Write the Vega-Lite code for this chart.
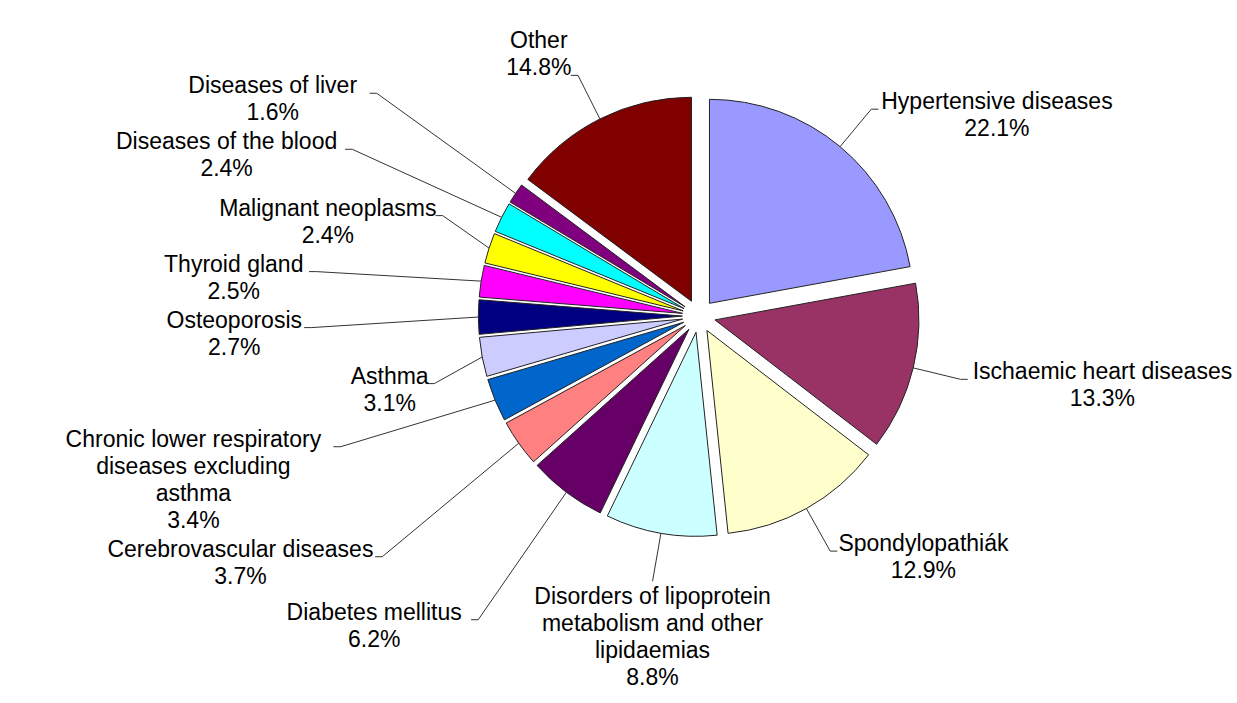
{
  "$schema": "https://vega.github.io/schema/vega-lite/v6.json",
  "width": 1237,
  "height": 703,
  "autosize": {"type": "none"},
  "padding": 0,
  "background": "white",
  "config": {"view": {"stroke": null}},
  "data": {
    "values": [
      {"order": 0, "name": "Hypertensive diseases", "value": 22.1},
      {"order": 1, "name": "Ischaemic heart diseases", "value": 13.3},
      {"order": 2, "name": "Spondylopathiák", "value": 12.9},
      {"order": 3, "name": "Disorders of lipoprotein\nmetabolism and other\nlipidaemias", "value": 8.8},
      {"order": 4, "name": "Diabetes mellitus", "value": 6.2},
      {"order": 5, "name": "Cerebrovascular diseases", "value": 3.7},
      {"order": 6, "name": "Chronic lower respiratory\ndiseases excluding\nasthma", "value": 3.4},
      {"order": 7, "name": "Asthma", "value": 3.1},
      {"order": 8, "name": "Osteoporosis", "value": 2.7},
      {"order": 9, "name": "Thyroid gland", "value": 2.5},
      {"order": 10, "name": "Malignant neoplasms", "value": 2.4},
      {"order": 11, "name": "Diseases of the blood", "value": 2.4},
      {"order": 12, "name": "Diseases of liver", "value": 1.6},
      {"order": 13, "name": "Other", "value": 14.8}
    ]
  },
  "transform": [
    {"joinaggregate": [{"op": "sum", "field": "value", "as": "total"}]},
    {"window": [{"op": "sum", "field": "value", "as": "cum"}], "sort": [{"field": "order", "order": "ascending"}], "frame": [null, 0]},
    {"calculate": "(datum.cum - datum.value) / datum.total", "as": "f0"},
    {"calculate": "datum.cum / datum.total", "as": "f1"},
    {"calculate": "PI * (datum.f0 + datum.f1)", "as": "mid"},
    {"calculate": "sin(datum.mid)", "as": "s"},
    {"calculate": "cos(datum.mid)", "as": "c"},
    {"calculate": "0.081 * datum.s", "as": "ex"},
    {"calculate": "0.081 * datum.c", "as": "ey"},
    {"calculate": "1.081 * datum.s", "as": "ax"},
    {"calculate": "1.081 * datum.c", "as": "ay"},
    {"calculate": "datum.value >= 8 ? 1.32 : datum.value >= 5 ? 1.8 : (datum.order % 3 == 1 ? 1.32 : 1.9)", "as": "rl"},
    {"calculate": "datum.rl * datum.s", "as": "bx"},
    {"calculate": "datum.rl * datum.c", "as": "by0"},
    {"calculate": "abs(datum.s) > 0.3", "as": "side"},
    {"calculate": "datum.s < 0 && datum.value < 8 ? 'L' : 'N'", "as": "grp"},
    {"calculate": "indexof(datum.name, '\\n') >= 0 ? 4 : 2", "as": "nl"},
    {"calculate": "format(datum.value, '.1f') + '%'", "as": "pct"},
    {"calculate": "datum.name + '\\n' + datum.pct", "as": "lbl"},
    {"calculate": "indexof(datum.name, '\\n') >= 0 ? indexof(datum.name, '\\n') : length(datum.name)", "as": "len1"},
    {"calculate": "length(datum.pct) >= datum.len1 ? datum.nl - 1 : 0", "as": "k"},
    {"calculate": "max(datum.len1, length(datum.pct)) * 10.8 / 2 / 204", "as": "hw"},
    {"calculate": "(20.5 + 27 * datum.k) / 204", "as": "off"},
    {"calculate": "(datum.nl * 27 + 2) / 204", "as": "h"},
    {"calculate": "datum.by0 + datum.off", "as": "top0"},
    {"window": [{"op": "sum", "field": "h", "as": "csum"}], "groupby": ["grp"], "sort": [{"field": "top0", "order": "descending"}], "frame": [null, 0]},
    {"calculate": "datum.csum - datum.h", "as": "S"},
    {"calculate": "datum.top0 + datum.S", "as": "u"},
    {"window": [{"op": "min", "field": "u", "as": "M"}], "groupby": ["grp"], "sort": [{"field": "top0", "order": "descending"}], "frame": [null, 0]},
    {"calculate": "datum.M - datum.S", "as": "D"},
    {"window": [{"op": "sum", "field": "h", "as": "T"}], "groupby": ["grp"], "sort": [{"field": "top0", "order": "ascending"}], "frame": [null, 0]},
    {"calculate": "datum.top0 - datum.T", "as": "v"},
    {"window": [{"op": "max", "field": "v", "as": "Mx"}], "groupby": ["grp"], "sort": [{"field": "top0", "order": "ascending"}], "frame": [null, 0]},
    {"calculate": "datum.T + datum.Mx", "as": "U"},
    {"calculate": "datum.grp == 'L' ? (datum.D + datum.U) / 2 : datum.top0", "as": "top"},
    {"calculate": "datum.top - datum.off", "as": "by"},
    {"calculate": "datum.side ? datum.bx + (datum.s > 0 ? 0.035 : -0.035) : datum.bx", "as": "hx"},
    {"calculate": "datum.side ? datum.hx + (datum.s > 0 ? 1 : -1) * (0.025 + datum.hw) : datum.bx", "as": "lx"},
    {"calculate": "datum.side ? datum.top - 13.5 / 204 : (datum.c < 0 ? datum.by - 0.076 : datum.by + 0.076 + (datum.nl - 1) * 27 / 204)", "as": "ly"}
  ],
  "layer": [
    {
      "mark": {"type": "arc", "radius": 204, "stroke": "#222222", "strokeWidth": 1},
      "encoding": {
        "theta": {"field": "f0", "type": "quantitative", "stack": null, "scale": {"domain": [0, 1], "range": [0, 6.283185307], "zero": false, "nice": false}},
        "theta2": {"field": "f1"},
        "x": {"field": "ex", "type": "quantitative", "axis": null, "scale": {"domain": [-3.426, 2.638], "nice": false, "zero": false}},
        "y": {"field": "ey", "type": "quantitative", "axis": null, "scale": {"domain": [-1.897, 1.549], "nice": false, "zero": false}},
        "color": {
          "field": "name",
          "type": "nominal",
          "legend": null,
          "scale": {
            "domain": ["Hypertensive diseases", "Ischaemic heart diseases", "Spondylopathiák", "Disorders of lipoprotein\nmetabolism and other\nlipidaemias", "Diabetes mellitus", "Cerebrovascular diseases", "Chronic lower respiratory\ndiseases excluding\nasthma", "Asthma", "Osteoporosis", "Thyroid gland", "Malignant neoplasms", "Diseases of the blood", "Diseases of liver", "Other"],
            "range": ["#9999FF", "#993366", "#FFFFCC", "#CCFFFF", "#660066", "#FF8080", "#0066CC", "#CCCCFF", "#000080", "#FF00FF", "#FFFF00", "#00FFFF", "#800080", "#800000"]
          }
        }
      }
    },
    {
      "mark": {"type": "rule", "stroke": "#333333", "strokeWidth": 1},
      "encoding": {
        "x": {"field": "ax", "type": "quantitative", "axis": null, "scale": {"domain": [-3.426, 2.638], "nice": false, "zero": false}},
        "y": {"field": "ay", "type": "quantitative", "axis": null, "scale": {"domain": [-1.897, 1.549], "nice": false, "zero": false}},
        "x2": {"field": "bx"},
        "y2": {"field": "by"}
      }
    },
    {
      "mark": {"type": "rule", "stroke": "#333333", "strokeWidth": 1},
      "encoding": {
        "x": {"field": "bx", "type": "quantitative", "axis": null, "scale": {"domain": [-3.426, 2.638], "nice": false, "zero": false}},
        "y": {"field": "by", "type": "quantitative", "axis": null, "scale": {"domain": [-1.897, 1.549], "nice": false, "zero": false}},
        "x2": {"field": "hx"},
        "y2": {"field": "by"}
      }
    },
    {
      "mark": {"type": "text", "font": "Liberation Sans", "fontSize": 23, "lineHeight": 27, "lineBreak": "\n", "align": "center", "baseline": "middle", "color": "#000000"},
      "encoding": {
        "x": {"field": "lx", "type": "quantitative", "axis": null, "scale": {"domain": [-3.426, 2.638], "nice": false, "zero": false}},
        "y": {"field": "ly", "type": "quantitative", "axis": null, "scale": {"domain": [-1.897, 1.549], "nice": false, "zero": false}},
        "text": {"field": "lbl"}
      }
    }
  ]
}
